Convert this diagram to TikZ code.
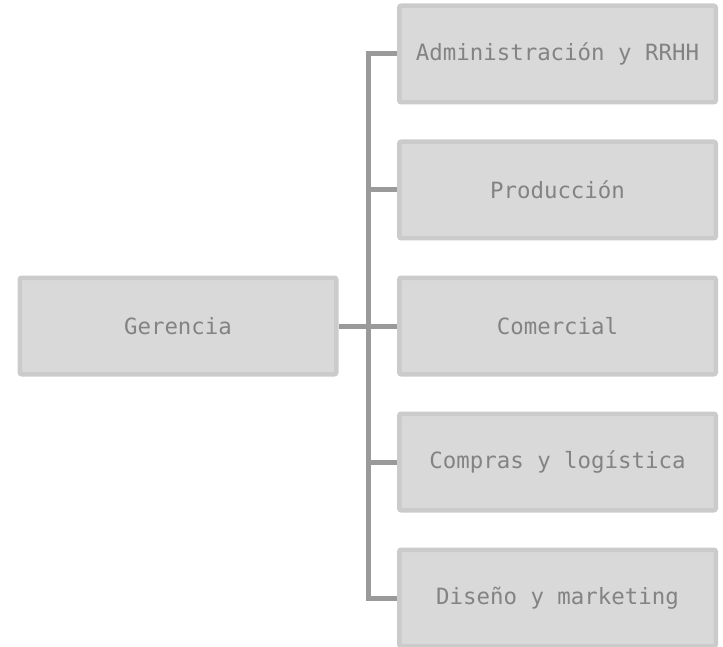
\documentclass[tikz,border=0pt]{standalone}
\usepackage{fontspec}
\setmonofont{DejaVu Sans Mono}
\usepackage{xcolor}
\usetikzlibrary{positioning}
\definecolor{boxfill}{HTML}{D9D9D9}
\definecolor{boxline}{HTML}{CBCBCB}
\definecolor{linkgray}{HTML}{9A9A9A}
\definecolor{textgray}{HTML}{838383}
\tikzset{
	unit/.style={
			draw=boxline, fill=boxfill, line width=4.5pt, rounded corners=2pt,
			minimum width=316.5pt, minimum height=96.5pt, inner sep=0pt,
			text=textgray, font=\ttfamily\fontsize{22.4}{26}\selectfont
		},
	link/.style={draw=linkgray, line width=5pt}
}

\begin{document}
\begin{tikzpicture}[x=1pt, y=-1pt]
    \useasboundingbox (0, 0) rectangle (723, 647);
    \node[unit] (ger) at (178, 326) {Gerencia};
    \node[unit] (adm) at (557.5, 54) {Administración y RRHH};
    \node[unit] (prod) at (557.5, 190) {Producción};
    \node[unit] (com) at (557.5, 326) {Comercial};
    \node[unit] (comp) at (557.5, 462) {Compras y logística};
    \node[unit] (dis) at (557.5, 598) {Diseño y marketing};
    \coordinate (trunk) at (368, 326);
    % tronco vertical con los extremos en ángulo
    \draw[link] (adm.west) -| (trunk) |- (dis.west);
    \draw[link] (trunk |- prod.west) -- (prod.west);
    \draw[link] (trunk |- comp.west) -- (comp.west);
    \draw[link] (ger.east) -- (com.west);
\end{tikzpicture}
\end{document}
